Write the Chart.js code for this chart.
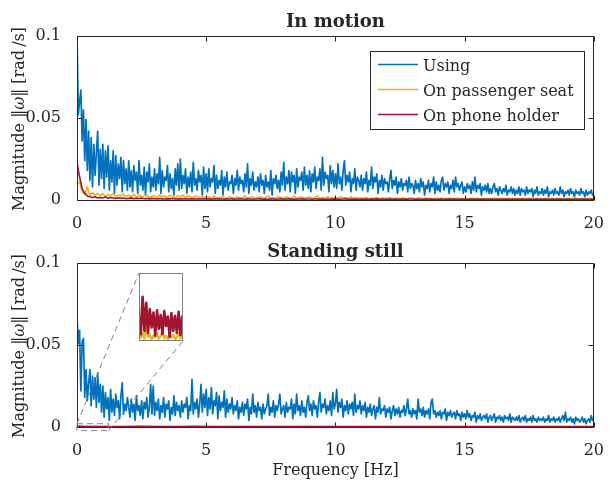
<!DOCTYPE html>
<html lang="en">
<head>
<meta charset="UTF-8">
<title>Angular velocity spectrum</title>
<script src="https://cdn.jsdelivr.net/npm/chart.js@4.4.1/dist/chart.umd.min.js"></script>
<style>
  html, body { margin: 0; padding: 0; background: #fff; }
  #wrap { position: relative; width: 610px; height: 481px; }
  canvas { position: absolute; }
</style>
</head>
<body>
<div id="wrap">
  <canvas id="topChart" width="610" height="230" style="left:0;top:0"></canvas>
  <canvas id="bottomChart" width="610" height="251" style="left:0;top:230px"></canvas>
  <canvas id="insetChart" width="44" height="68" style="left:139px;top:273px"></canvas>
</div>
<script>
// values are in mrad/s, divided by 1000 when the datasets are built
const seriesNames = ['Using', 'On passenger seat', 'On phone holder'];
const xTicks = [0, 5, 10, 15, 20];
const yTicks = [0, 0.05, 0.1];
const yTickLabels = ['0', '0.05', '0.1'];

const fineStep = 0.05;   // Hz between samples of the "Using" traces
const coarseStep = 0.1;  // Hz between samples of the other in-motion traces

// In motion, "Using" (0 .. 20 Hz, 0.05 Hz apart)
const motionUsing = [
  100,52,60,67,36,55,24,49,18,42,12,38,8,34,15,29,42,9,31,13,
  34,7,30,14,33,6,24,11,30,4,27,9,22,13,26,5,24,10,19,6,
  24,8,18,5,21,12,17,4,24,9,15,6,20,3,17,11,22,5,14,8,
  19,6,16,10,26,4,18,8,14,12,21,5,16,7,13,3,19,9,22,6,
  25,7,15,10,19,4,14,8,17,5,23,9,13,6,18,11,15,3,20,7,
  16,5,19,8,13,11,21,4,15,7,12,9,18,3,14,8,17,6,11,10,
  15,4,13,9,18,6,14,10,12,5,16,8,22,4,13,9,17,6,11,8,
  14,5,16,9,12,4,15,8,11,6,18,3,13,10,15,7,12,5,17,9,
  23,6,14,10,18,5,17,11,15,4,19,8,14,12,17,6,20,9,15,7,
  18,5,16,11,20,7,14,12,19,6,26,9,17,13,15,5,21,10,18,8,
  16,7,22,10,14,6,18,24,9,15,11,17,5,13,10,19,6,14,12,8,
  15,6,13,10,17,5,12,9,20,7,14,11,16,4,12,8,15,6,13,10,
  11,5,13,18,7,12,9,14,4,11,8,13,6,10,9,12,5,14,7,10,
  9,4,12,7,10,5,13,8,11,3,9,7,12,5,10,8,14,4,11,6,
  9,5,12,14,6,10,8,11,4,9,7,12,5,14,8,10,6,9,11,4,
  8,5,10,7,9,4,11,6,14,5,9,7,10,3,8,6,9,5,10,4,
  7,4,8,10,5,7,3,8,6,4,7,5,9,3,6,5,8,4,7,3,
  6,4,8,3,7,5,6,3,8,4,6,5,7,2,6,4,8,3,5,4,
  7,3,6,4,8,2,5,4,6,3,7,4,5,3,8,4,6,2,5,4,
  6,3,7,4,5,2,6,4,5,3,7,4,5,2,6,3,5,4,6,3,4
];

// In motion, passenger seat (0 .. 20 Hz, 0.1 Hz apart)
const motionSeat = [
  10,11,5,3.5,8,3,4.5,3,4,2.5,
  4,2,3.5,2.5,4,2,3,2.5,3.5,2,
  3,2,3.5,1.5,3,2,2.5,3,1.5,2.5,
  2.5,1.5,3,2,2.5,1.5,3,2,1.5,2.5,
  2,3,1.5,2.5,2,1.5,2.5,2,1.5,2,
  1.5,2,1,2.5,1.5,1,2,1.5,1,2,
  1.5,1,2,1.5,1,2.5,1,1.5,2,1,
  1.5,2,1,1.5,2.5,1,1.5,1,2,1.5,
  1,2,1.5,1,2.5,1,1.5,2,1,1.5,
  2,1,1.5,2.5,1,1.5,1,2,1.5,1,
  1.5,1,2,1,1.5,1,2,1,1.5,1,
  1.2,1,1.5,0.8,1.2,1,1.5,0.8,1.2,1,
  1,1.3,0.8,1.2,1,0.8,1.3,1,0.8,1.2,
  1,0.8,1.2,1,0.8,1.2,0.9,1,0.8,1.1,
  0.9,1.1,0.8,1,0.9,1.2,0.8,1,0.9,0.8,
  1,0.8,0.9,1.1,0.8,1,0.9,0.8,1,0.9,
  0.8,1,0.9,0.8,1,0.9,0.8,1,0.9,0.8,
  1,0.9,0.8,1,0.8,0.9,1,0.8,0.9,1,
  0.8,0.9,1,0.8,0.9,0.8,1,0.9,0.8,0.9,
  1,0.8,0.9,1,0.8,0.9,0.8,1,0.9,0.8,0.9
];

// In motion, phone holder (0 .. 20 Hz, 0.1 Hz apart)
const motionHolder = [
  23,14,7,4,2.5,2,1.5,2,1.2,1.5,
  1.2,1.8,1,1.5,1.2,0.9,1.4,1,1.2,0.8,
  1,1.3,0.8,1.1,0.9,1.2,0.8,1,0.7,1,
  0.8,0.6,0.9,0.7,0.6,0.8,0.7,0.9,0.6,0.7,
  0.7,0.6,0.8,0.6,0.7,0.8,0.6,0.7,0.6,0.8,
  0.6,0.7,0.5,0.8,0.6,0.7,0.6,0.5,0.7,0.6,
  0.7,0.5,0.6,0.7,0.6,0.5,0.7,0.6,0.5,0.6,
  0.6,0.7,0.5,0.6,0.5,0.7,0.6,0.5,0.6,0.7,
  0.5,0.6,0.7,0.5,0.6,0.5,0.6,0.7,0.5,0.6,
  0.6,0.5,0.6,0.7,0.5,0.6,0.5,0.6,0.5,0.7,
  0.5,0.6,0.5,0.6,0.7,0.5,0.6,0.5,0.6,0.5,
  0.6,0.5,0.6,0.5,0.6,0.5,0.7,0.5,0.6,0.5,
  0.5,0.6,0.5,0.6,0.5,0.6,0.5,0.6,0.5,0.6,
  0.6,0.5,0.6,0.5,0.5,0.6,0.5,0.6,0.5,0.5,
  0.5,0.6,0.5,0.5,0.6,0.5,0.6,0.5,0.5,0.6,
  0.5,0.5,0.6,0.5,0.6,0.5,0.5,0.6,0.5,0.5,
  0.6,0.5,0.5,0.6,0.5,0.5,0.6,0.5,0.5,0.6,
  0.5,0.5,0.6,0.5,0.5,0.6,0.5,0.5,0.6,0.5,
  0.5,0.6,0.5,0.5,0.6,0.5,0.5,0.6,0.5,0.5,
  0.6,0.5,0.5,0.6,0.5,0.5,0.6,0.5,0.5,0.6,0.5
];

// Standing still, "Using" (0 .. 20 Hz, 0.05 Hz apart)
const stillUsing = [
  67,51,59,22,52,54,18,35,16,27,35,13,31,17,30,12,33,15,26,9,
  25,6,21,11,18,4,23,9,17,7,20,12,16,5,19,27,8,14,10,18,
  12,6,17,9,14,4,19,10,13,7,16,5,15,11,18,6,12,26,8,25,
  7,15,10,17,5,13,9,18,6,14,11,16,4,12,8,19,7,15,10,13,
  6,16,9,14,12,18,5,13,10,29,8,15,11,17,6,14,26,9,20,12,
  23,7,18,11,24,8,16,13,21,5,19,10,15,12,22,6,17,9,14,11,
  18,8,13,10,16,5,12,9,15,7,14,11,17,4,12,8,20,9,13,6,
  15,10,12,5,14,8,11,13,20,7,12,9,16,6,13,10,14,20,8,11,
  13,6,15,9,12,11,17,5,14,8,20,10,13,7,16,9,12,6,15,19,
  10,14,7,16,11,13,6,15,21,9,14,12,17,8,13,10,16,7,21,11,
  14,23,9,15,12,17,6,13,10,16,8,14,11,15,7,20,9,13,11,16,
  8,13,10,15,6,12,9,14,7,11,13,5,12,9,18,8,11,10,13,6,
  11,9,12,5,10,13,7,11,8,12,6,10,9,13,7,11,17,8,10,6,
  11,8,10,5,17,9,11,7,12,6,10,8,11,5,15,17,8,10,6,9,
  7,10,5,9,8,11,4,9,7,10,6,8,9,5,10,7,8,4,9,6,
  8,5,10,6,8,4,7,6,9,3,7,5,8,4,6,7,5,8,3,6,
  7,4,6,8,3,6,5,7,4,6,3,7,5,6,4,8,3,6,5,4,
  6,4,7,3,5,6,4,7,3,5,4,6,3,7,4,5,3,6,4,5,
  4,6,3,5,4,7,3,5,4,6,3,5,4,6,3,5,7,4,9,3,
  5,4,6,3,5,2,6,4,5,3,4,6,3,5,2,4,5,3,7,4,5
];

// Standing still, seat and holder: 0 .. 1.25 Hz every 0.05 Hz (the zoomed part),
// then 1.5 .. 20 Hz every 0.5 Hz
const stillNearEnd = 1.25, stillFarStart = 1.5, stillFarStep = 0.5;
const stillSeat = [
  0.53,0.05,0.12,0.03,0.3,0.06,0.1,0.02,0.08,0.05,0.12,0.03,0.07,0.15,0.04,0.08,0.02,0.1,0.05,0.09,0.03,0.06,0.11,0.04,0.08,0.05,
  0.15,0.2,0.1,0.25,0.12,0.18,0.1,0.22,0.15,0.1,0.2,0.12,0.18,0.1,0.15,0.2,0.1,0.12,0.18,0.1,
  0.15,0.12,0.1,0.16,0.12,0.1,0.14,0.1,0.12,0.15,0.1,0.12,0.1,0.14,0.1,0.12,0.1,0.13
];
const stillHolder = [
  0.35,0.1,0.65,0.15,0.56,0.12,0.47,0.2,0.42,0.08,0.45,0.18,0.38,0.1,0.44,0.22,0.36,0.06,0.41,0.15,0.37,0.12,0.43,0.09,0.36,0.3,
  0.35,0.3,0.4,0.28,0.33,0.3,0.36,0.27,0.32,0.3,0.34,0.28,0.31,0.3,0.33,0.27,0.3,0.32,0.28,0.3,
  0.31,0.27,0.3,0.29,0.32,0.28,0.3,0.27,0.29,0.31,0.28,0.3,0.27,0.29,0.3,0.28,0.29,0.3
];

const colors = ['#0072BD', '#EDB120', '#A2142F'];
const ink = '#262626';
const serif = '"DejaVu Serif", serif';

Chart.defaults.font.family = serif;
Chart.defaults.font.size = 16;
Chart.defaults.color = ink;

function evenPoints(vals, dx) {
  return vals.map((v, i) => ({ x: +(i * dx).toFixed(3), y: v / 1000 }));
}
function stillPoints(vals) {
  const nNear = Math.round(stillNearEnd / fineStep) + 1;
  return vals.map((v, i) => ({
    x: i < nNear ? +(i * fineStep).toFixed(3) : stillFarStart + (i - nNear) * stillFarStep,
    y: v / 1000
  }));
}
function lineSet(label, pts, k, w) {
  return {
    label: label, data: pts, borderColor: colors[k], backgroundColor: colors[k],
    borderWidth: w || 1.5, pointRadius: 0, tension: 0, borderJoinStyle: 'round',
    order: 2 - k
  };
}

// MATLAB-like box, inward ticks and hand-set texts
const frame = {
  id: 'frame',
  afterDraw(chart, args, o) {
    const ctx = chart.ctx, a = chart.chartArea, sx = chart.scales.x, sy = chart.scales.y;
    const L = Math.floor(a.left) + 0.5, R = Math.floor(a.right) + 0.5;
    const T = Math.floor(a.top) + 0.5, B = Math.floor(a.bottom) + 0.5;
    ctx.save();
    ctx.strokeStyle = ink;
    ctx.lineWidth = 1;
    ctx.beginPath();
    ctx.rect(L, T, R - L, B - T);
    xTicks.forEach(v => {
      const p = Math.round(sx.getPixelForValue(v)) + 0.5;
      ctx.moveTo(p, B); ctx.lineTo(p, B - 5);
      ctx.moveTo(p, T); ctx.lineTo(p, T + 5);
    });
    yTicks.forEach(v => {
      const p = Math.round(sy.getPixelForValue(v)) + 0.5;
      ctx.moveTo(L, p); ctx.lineTo(L + 5, p);
      ctx.moveTo(R, p); ctx.lineTo(R - 5, p);
    });
    ctx.stroke();

    ctx.fillStyle = ink;
    ctx.textAlign = 'center';
    ctx.textBaseline = 'alphabetic';
    ctx.font = 'bold 18px ' + serif;
    ctx.fillText(o.title, (a.left + a.right) / 2, 26.5);

    if (o.xTitle) {
      ctx.font = '16px ' + serif;
      ctx.fillText(o.xTitle, (a.left + a.right) / 2, o.xTitleY);
    }

    // y title: Magnitude ||omega|| [rad/s], omega in italics
    const parts = [
      { t: 'Magnitude \u2016', f: '16px ' + serif },
      { t: '\u03C9', f: 'italic 16px ' + serif },
      { t: '\u2016 [rad\u2009/s]', f: '16px ' + serif }
    ];
    let total = 0;
    parts.forEach(p => { ctx.font = p.f; p.w = ctx.measureText(p.t).width; total += p.w; });
    ctx.save();
    ctx.translate(23.5, (a.top + a.bottom) / 2 + 1);
    ctx.rotate(-Math.PI / 2);
    ctx.textAlign = 'left';
    let cx = -total / 2;
    parts.forEach(p => { ctx.font = p.f; ctx.fillText(p.t, cx, 0); cx += p.w; });
    ctx.restore();

    if (o.legend) {
      const lg = o.legend;
      ctx.fillStyle = '#fff';
      ctx.fillRect(lg.x, lg.y, lg.w, lg.h);
      ctx.strokeStyle = ink;
      ctx.strokeRect(lg.x + 0.5, lg.y + 0.5, lg.w, lg.h);
      ctx.font = '16px ' + serif;
      ctx.textAlign = 'left';
      chart.data.datasets.forEach((ds, i) => {
        const yy = lg.y + 13.5 + i * 25;
        ctx.strokeStyle = ds.borderColor;
        ctx.lineWidth = 1.5;
        ctx.beginPath();
        ctx.moveTo(lg.x + 8, yy); ctx.lineTo(lg.x + 48, yy);
        ctx.stroke();
        ctx.fillStyle = ink;
        ctx.fillText(ds.label, lg.x + 53, yy + 6.5);
      });
    }

    if (o.zoom) {
      const z = o.zoom;
      const x0 = sx.getPixelForValue(z.x0), x1 = sx.getPixelForValue(z.x1);
      const y0 = sy.getPixelForValue(z.y0), y1 = sy.getPixelForValue(z.y1);
      ctx.strokeStyle = '#808080';
      ctx.lineWidth = 1;
      ctx.setLineDash([6, 4]);
      ctx.beginPath();
      ctx.rect(x0, y1, x1 - x0, y0 - y1);
      ctx.moveTo(x0, y1); ctx.lineTo(z.box.left, z.box.top);
      ctx.moveTo(x1, y0); ctx.lineTo(z.box.right, z.box.bottom);
      ctx.stroke();
    }
    ctx.restore();
  }
};

function axes(xHeight) {
  return {
    x: {
      type: 'linear', min: 0, max: 20,
      grid: { display: false }, border: { display: false },
      afterBuildTicks: s => { s.ticks = xTicks.map(v => ({ value: v })); },
      ticks: { padding: 6, maxRotation: 0, autoSkip: false, color: ink },
      afterFit: s => { s.height = xHeight; }
    },
    y: {
      type: 'linear', min: 0, max: 0.1,
      grid: { display: false }, border: { display: false },
      afterBuildTicks: s => { s.ticks = yTicks.map(v => ({ value: v })); },
      ticks: { padding: 8, color: ink, callback: v => yTickLabels[yTicks.indexOf(v)] },
      afterFit: s => { s.width = 77; }
    }
  };
}

const common = {
  responsive: false, animation: false, events: [],
  plugins: { legend: { display: false }, tooltip: { enabled: false } }
};

new Chart(document.getElementById('topChart'), {
  type: 'line',
  data: {
    datasets: [
      lineSet(seriesNames[0], evenPoints(motionUsing, fineStep), 0, 1.7),
      lineSet(seriesNames[1], evenPoints(motionSeat, coarseStep), 1, 1.6),
      lineSet(seriesNames[2], evenPoints(motionHolder, coarseStep), 2, 1.6)
    ]
  },
  options: Object.assign({}, common, {
    layout: { padding: { left: 0, right: 13, top: 36, bottom: 0 } },
    scales: axes(30),
    plugins: Object.assign({}, common.plugins, {
      frame: { title: 'In motion', legend: { x: 370, y: 51, w: 214, h: 78 } }
    })
  }),
  plugins: [frame]
});

const insetRange = { x0: 0, x1: 1.22, y0: 0, y1: 0.001 };

new Chart(document.getElementById('bottomChart'), {
  type: 'line',
  data: {
    datasets: [
      lineSet(seriesNames[0], evenPoints(stillUsing, fineStep), 0, 1.7),
      lineSet(seriesNames[1], stillPoints(stillSeat), 1, 1.6),
      lineSet(seriesNames[2], stillPoints(stillHolder), 2, 1.6)
    ]
  },
  options: Object.assign({}, common, {
    layout: { padding: { left: 0, right: 13, top: 33, bottom: 0 } },
    scales: axes(54),
    plugins: Object.assign({}, common.plugins, {
      frame: {
        title: 'Standing still', xTitle: 'Frequency [Hz]', xTitleY: 245,
        zoom: { x0: insetRange.x0, x1: insetRange.x1, y0: -0.0022, y1: 0.002,
                box: { left: 139, top: 43, right: 183, bottom: 111 } }
      }
    })
  }),
  plugins: [frame]
});

const insetBorder = {
  id: 'insetBorder',
  afterDraw(chart) {
    const ctx = chart.ctx;
    ctx.save();
    ctx.strokeStyle = '#808080';
    ctx.lineWidth = 1;
    ctx.strokeRect(0.5, 0.5, chart.width - 1, chart.height - 1);
    ctx.restore();
  }
};

new Chart(document.getElementById('insetChart'), {
  type: 'line',
  data: {
    datasets: [
      lineSet(seriesNames[1], stillPoints(stillSeat), 1, 2.2),
      lineSet(seriesNames[2], stillPoints(stillHolder), 2, 2.6)
    ]
  },
  options: Object.assign({}, common, {
    layout: { padding: 0 },
    scales: {
      x: { type: 'linear', display: false, min: insetRange.x0, max: insetRange.x1 },
      y: { type: 'linear', display: false, min: insetRange.y0, max: insetRange.y1 }
    }
  }),
  plugins: [insetBorder]
});
</script>
</body>
</html>
